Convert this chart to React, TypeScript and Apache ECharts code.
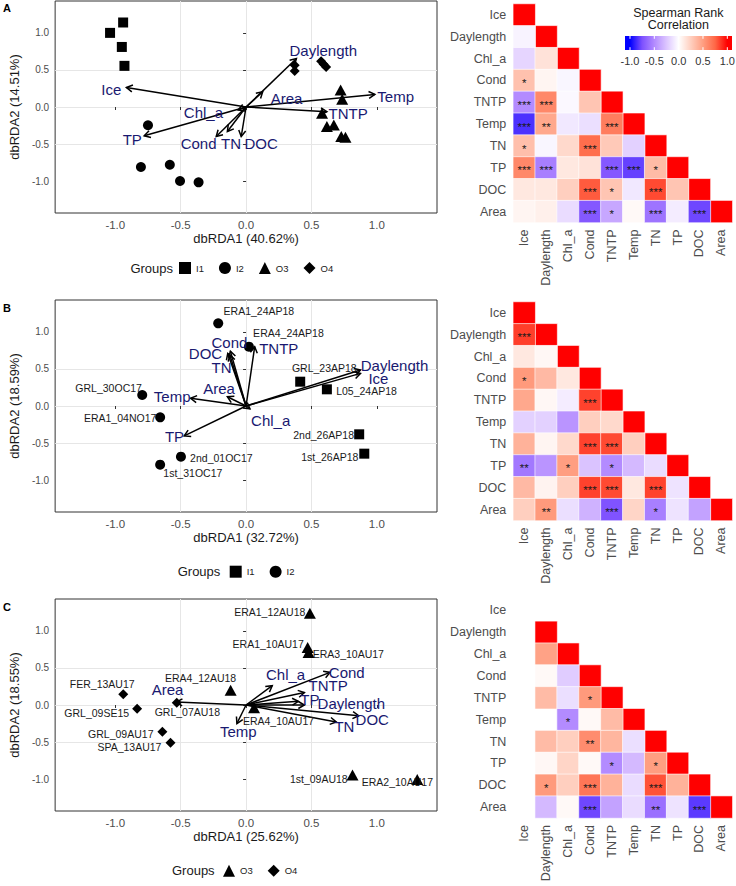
import React, { useEffect, useRef } from "react";
import * as echarts from "echarts";

const FONT = '"Liberation Sans", Arial, Helvetica, sans-serif';

// ---------- correlation heatmaps ----------
const varNames = ["Ice", "Daylength", "Chl_a", "Cond", "TNTP", "Temp", "TN", "TP", "DOC", "Area"];

// lower triangle: rows Daylength..Area, columns Ice..(row-1)
const corrA = [
  [-0.05],
  [-0.18, 0.15],
  [0.32, 0.05, -0.04],
  [-0.5, 0.6, -0.03, 0.3],
  [-0.85, 0.45, -0.1, -0.14, 0.65],
  [0.33, -0.04, 0.2, 0.72, 0.28, -0.2],
  [0.6, -0.55, 0.12, 0.15, -0.72, -0.8, 0.35],
  [0.12, 0.12, 0.25, 0.78, 0.3, -0.1, 0.82, 0.3],
  [0.05, 0.08, -0.15, -0.72, -0.38, 0.03, -0.6, -0.08, -0.78],
];
const sigA = [
  [""],
  ["", ""],
  ["*", "", ""],
  ["***", "***", "", ""],
  ["***", "**", "", "", "***"],
  ["*", "", "", "***", "", ""],
  ["***", "***", "", "", "***", "***", "*"],
  ["", "", "", "***", "*", "", "***", ""],
  ["", "", "", "***", "*", "", "***", "", "***"],
];
const diagA = [1, 1, 1, 1, 1, 1, 1, 1, 1, 1];

const corrB = [
  [0.85],
  [0.12, 0.04],
  [0.52, 0.36, 0.12],
  [0.45, 0.04, -0.08, 0.84],
  [-0.2, -0.2, -0.46, 0.25, 0.2],
  [0.4, 0.05, 0.2, 0.84, 0.82, 0.25],
  [-0.58, -0.46, 0.5, -0.26, -0.5, -0.3, -0.15],
  [0.36, 0.06, 0.25, 0.84, 0.82, 0.12, 0.84, -0.12],
  [0.25, 0.52, -0.14, -0.33, -0.74, 0.22, -0.55, -0.12, -0.4],
];
const sigB = [
  ["***"],
  ["", ""],
  ["*", "", ""],
  ["", "", "", "***"],
  ["", "", "", "", ""],
  ["", "", "", "***", "***", ""],
  ["**", "", "*", "", "*", "", ""],
  ["", "", "", "***", "***", "", "***", ""],
  ["", "**", "", "", "***", "", "*", "", ""],
];
const diagB = [1, 1, 1, 1, 1, 1, 1, 1, 1, 1];

const corrC = [
  [null],
  [null, 0.48],
  [null, 0.03, -0.22],
  [null, 0.35, -0.14, 0.52],
  [null, null, -0.5, 0.03, 0.35],
  [null, 0.35, 0.25, 0.58, 0.38, -0.14],
  [null, 0.04, 0.22, 0.03, -0.5, -0.3, 0.5],
  [null, 0.52, 0.25, 0.68, 0.4, -0.15, 0.8, 0.4],
  [null, -0.3, 0.03, -0.78, -0.4, -0.15, -0.62, -0.12, -0.82],
];
const sigC = [
  [""],
  ["", ""],
  ["", "", ""],
  ["", "", "", "*"],
  ["", "", "*", "", ""],
  ["", "", "", "**", "", ""],
  ["", "", "", "", "*", "", "*"],
  ["", "*", "", "***", "", "", "***", ""],
  ["", "", "", "***", "", "", "**", "", "***"],
];
const diagC = [null, 1, 1, 1, 1, 1, 1, 1, 1, 1];

const legendTicks = [-1, -0.5, 0, 0.5, 1];
const gradColors = ["#0000FF", "#7E51FF", "#B38BFF", "#DCC5FF", "#FFFFFF", "#FFCFBF", "#FF9E81", "#FF6746", "#FF0000"];

// ---------- ordination panels ----------
const ordTicks = [-1, -0.5, 0, 0.5, 1];
const xTitles = ["dbRDA1 (40.62%)", "dbRDA1 (32.72%)", "dbRDA1 (25.62%)"];
const yTitles = ["dbRDA2 (14.51%)", "dbRDA2 (18.59%)", "dbRDA2 (18.55%)"];

// Panel A sites
const aI1 = [[-0.94, 1.14], [-1.04, 1.0], [-0.95, 0.81], [-0.93, 0.555]];
const aI2 = [[-0.75, -0.246], [-0.804, -0.81], [-0.583, -0.779], [-0.505, -0.998], [-0.363, -1.016]];
const aO3 = [[0.723, 0.228], [0.735, 0.103], [0.581, -0.085], [0.618, -0.264], [0.671, -0.242], [0.728, -0.398], [0.76, -0.407]];
const aO4 = [[0.372, 0.564], [0.372, 0.487], [0.574, 0.617], [0.593, 0.577], [0.612, 0.541]];
const arrowNamesA = ["Ice", "Daylength", "Chl_a", "Cond", "TNTP", "Temp", "TN", "TP", "DOC", "Area"];
const arrowTipsA = [[-0.915, 0.264], [0.385, 0.654], [-0.06, -0.04], [-0.228, -0.398], [0.618, -0.063], [0.985, 0.17], [-0.143, -0.331], [-0.779, -0.389], [-0.037, -0.398], [0.127, 0.205]];
const arrowLabelPosA = [[-1.03, 0.238], [0.59, 0.765], [-0.326, -0.078], [-0.363, -0.487], [0.78, -0.09], [1.144, 0.148], [-0.115, -0.49], [-0.87, -0.443], [0.115, -0.497], [0.31, 0.12]];

// Panel B sites
const bI1 = [[0.414, 0.328], [0.618, 0.225], [0.865, -0.382], [0.904, -0.643]];
const bI2 = [[-0.213, 1.115], [0.022, 0.8], [-0.794, 0.148], [-0.657, -0.153], [-0.498, -0.683], [-0.657, -0.791]];
const siteNamesB = ["GRL_23AP18", "L05_24AP18", "2nd_26AP18", "1st_26AP18", "ERA1_24AP18", "ERA4_24AP18", "GRL_30OC17", "ERA1_04NO17", "2nd_01OC17", "1st_31OC17"];
const siteLabelPosB = [[0.598, 0.508], [0.921, 0.202], [0.593, -0.391], [0.64, -0.683], [0.098, 1.281], [0.324, 0.98], [-1.051, 0.238], [-0.963, -0.157], [-0.189, -0.697], [-0.407, -0.899]];
const arrowNamesB = ["Ice", "Daylength", "Chl_a", "Cond", "TNTP", "Temp", "TN", "TP", "DOC", "Area"];
const arrowTipsB = [[0.875, 0.44], [0.875, 0.485], [0.03, -0.04], [-0.12, 0.74], [0.066, 0.8], [-0.424, 0.104], [-0.125, 0.69], [-0.473, -0.404], [-0.14, 0.71], [-0.143, 0.125]];
const arrowLabelPosB = [[1.012, 0.373], [1.135, 0.553], [0.188, -0.189], [-0.127, 0.86], [0.25, 0.778], [-0.565, 0.125], [-0.188, 0.525], [-0.547, -0.413], [-0.31, 0.715], [-0.206, 0.237]];

// Panel C sites
const cO3 = [[0.488, 1.239], [0.471, 0.775], [0.478, 0.707], [-0.118, 0.198], [0.061, -0.036], [0.814, -0.946], [1.309, -1.004]];
const cO4 = [[-0.939, 0.144], [-0.833, -0.05], [-0.53, 0.03], [-0.64, -0.36], [-0.578, -0.509]];
const siteNamesC = ["ERA1_12AU18", "ERA1_10AU17", "ERA3_10AU17", "ERA4_12AU18", "ERA4_10AU17", "1st_09AU18", "ERA2_10AU17", "FER_13AU17", "GRL_09SE15", "GRL_07AU18", "GRL_09AU17", "SPA_13AU17"];
const siteLabelPosC = [[0.181, 1.248], [0.169, 0.829], [0.782, 0.685], [-0.348, 0.369], [0.248, -0.216], [0.556, -0.995], [1.157, -1.04], [-1.1, 0.288], [-1.142, -0.113], [-0.449, -0.09], [-0.958, -0.396], [-0.892, -0.568]];
const arrowNamesC = ["Daylength", "Chl_a", "Cond", "TNTP", "Temp", "TN", "TP", "DOC", "Area"];
const arrowTipsC = [[0.446, 0.0], [0.2, 0.26], [0.642, 0.44], [0.446, 0.168], [-0.07, -0.25], [0.69, -0.23], [0.4, 0.05], [0.862, -0.145], [-0.534, 0.04]];
const arrowLabelPosC = [[0.805, 0.02], [0.302, 0.408], [0.77, 0.433], [0.628, 0.26], [-0.06, -0.355], [0.752, -0.284], [0.488, 0.08], [0.965, -0.194], [-0.6, 0.203]];

const groupSymbols: Record<string, string> = { I1: "rect", I2: "circle", O3: "triangle", O4: "diamond" };
const groupSizes: Record<string, any> = { I1: 10, I2: 10, O3: [12, 11], O4: 10 };

function heatData(corr: (number | null)[][], sig: string[][], diag: (number | null)[]) {
  const out: any[] = [];
  varNames.forEach((_, i) => {
    if (diag[i] !== null) out.push({ value: [i, i, diag[i]], star: "" });
    if (i > 0) {
      corr[i - 1].forEach((v, j) => {
        if (v !== null) out.push({ value: [j, i, v], star: sig[i - 1][j] });
      });
    }
  });
  return out;
}

function buildOption() {
  const SCAT_LEFT = 39, SCAT_W = 398, SCAT_H = 212;
  const scatTops = [1, 300, 599];
  const HEAT_LEFT = 513.3, HEAT_W = 219, HEAT_H = 218.5;
  const heatTops = [4, 302, 599.5];

  const grid: any[] = [];
  const xAxis: any[] = [];
  const yAxis: any[] = [];
  const series: any[] = [];
  const heatSeriesIdx: number[] = [];

  const fmt = (v: number) => v.toFixed(1);

  for (let p = 0; p < 3; p++) {
    grid.push({
      left: SCAT_LEFT, top: scatTops[p], width: SCAT_W, height: SCAT_H,
      show: true, borderColor: "#333333", borderWidth: 1, backgroundColor: "transparent",
    });
    grid.push({ left: HEAT_LEFT, top: heatTops[p], width: HEAT_W, height: HEAT_H });
    const gs = 2 * p, gh = 2 * p + 1;
    xAxis[gs] = {
      type: "value", gridIndex: gs, min: -1.46, max: 1.46,
      name: xTitles[p], nameLocation: "middle", nameGap: 19,
      nameTextStyle: { color: "#1a1a1a", fontSize: 13, fontFamily: FONT },
      axisLine: { show: false },
      axisTick: { show: true, length: 3, lineStyle: { color: "#333333" }, customValues: ordTicks },
      axisLabel: { customValues: ordTicks, formatter: fmt, color: "#4d4d4d", fontSize: 11.5, fontFamily: FONT, margin: 6 },
      splitLine: { show: true, lineStyle: { color: "#E6E6E6", width: 1 }, showMinLine: false, showMaxLine: false },
    };
    yAxis[gs] = {
      type: "value", gridIndex: gs, min: -1.43, max: 1.43,
      name: yTitles[p], nameLocation: "middle", nameGap: 24, nameRotate: 90,
      nameTextStyle: { color: "#1a1a1a", fontSize: 13, fontFamily: FONT },
      axisLine: { show: false },
      axisTick: { show: true, length: 3, lineStyle: { color: "#333333" }, customValues: ordTicks },
      axisLabel: { customValues: ordTicks, formatter: fmt, color: "#4d4d4d", fontSize: 10, fontFamily: FONT, margin: 6 },
      splitLine: { show: true, lineStyle: { color: "#E6E6E6", width: 1 }, showMinLine: false, showMaxLine: false },
    };
    xAxis[gh] = {
      type: "category", gridIndex: gh, data: varNames,
      axisLine: { show: false }, axisTick: { show: false }, splitLine: { show: false },
      axisLabel: { rotate: 90, color: "#4d4d4d", fontSize: 12.5, fontFamily: FONT, margin: 7, interval: 0 },
    };
    yAxis[gh] = {
      type: "category", gridIndex: gh, data: varNames, inverse: true,
      axisLine: { show: false }, axisTick: { show: false }, splitLine: { show: false },
      axisLabel: { color: "#4d4d4d", fontSize: 12.5, fontFamily: FONT, margin: 7, interval: 0 },
    };
  }

  const addPoints = (axis: number, name: string, pts: number[][]) => {
    series.push({
      type: "scatter", name, xAxisIndex: axis, yAxisIndex: axis, data: pts,
      symbol: groupSymbols[name], symbolSize: groupSizes[name],
      itemStyle: { color: "#000000", opacity: 1 }, emphasis: { disabled: true }, z: 3,
    });
  };

  const addArrows = (axis: number, tips: number[][]) => {
    series.push({
      type: "custom", name: "arrows" + axis, xAxisIndex: axis, yAxisIndex: axis,
      data: tips, encode: { x: 0, y: 1 }, clip: false, z: 4, silent: true,
      renderItem: (params: any, api: any) => {
        const o = api.coord([0, 0]);
        const t = api.coord([api.value(0), api.value(1)]);
        const ang = Math.atan2(t[1] - o[1], t[0] - o[0]);
        const L = 7, a = Math.PI / 6;
        const p1 = [t[0] - L * Math.cos(ang - a), t[1] - L * Math.sin(ang - a)];
        const p2 = [t[0] - L * Math.cos(ang + a), t[1] - L * Math.sin(ang + a)];
        return {
          type: "group",
          children: [
            { type: "line", shape: { x1: o[0], y1: o[1], x2: t[0], y2: t[1] }, style: { stroke: "#000", lineWidth: 1.5 } },
            { type: "polyline", shape: { points: [p1, t, p2] }, style: { stroke: "#000", lineWidth: 1.5, fill: "none" } },
          ],
        };
      },
    });
  };

  const addTexts = (axis: number, names: string[], pos: number[][], color: string, size: number) => {
    series.push({
      type: "custom", name: "texts" + axis + size, xAxisIndex: axis, yAxisIndex: axis,
      data: pos, encode: { x: 0, y: 1 }, clip: false, z: 5, silent: true,
      renderItem: (params: any, api: any) => {
        const c = api.coord([api.value(0), api.value(1)]);
        return {
          type: "text", x: c[0], y: c[1],
          style: { text: names[params.dataIndex], fill: color, fontSize: size, fontFamily: FONT, align: "center", verticalAlign: "middle" },
        };
      },
    });
  };

  const addHeat = (axis: number, corr: any, sig: any, diag: any) => {
    heatSeriesIdx.push(series.length);
    series.push({
      type: "heatmap", name: "corr" + axis, xAxisIndex: axis, yAxisIndex: axis,
      data: heatData(corr, sig, diag),
      itemStyle: { borderColor: "#ffffff", borderWidth: 0.6 },
      emphasis: { disabled: true },
      label: {
        show: true, formatter: (pr: any) => pr.data.star || "",
        color: "#1a1a1a", fontSize: 11.5, fontFamily: FONT, offset: [0, 2.5],
      },
    });
  };

  // Panel A
  addPoints(0, "I1", aI1);
  addPoints(0, "I2", aI2);
  addPoints(0, "O3", aO3);
  addPoints(0, "O4", aO4);
  addArrows(0, arrowTipsA);
  addTexts(0, arrowNamesA, arrowLabelPosA, "#191970", 15);
  addHeat(1, corrA, sigA, diagA);

  // Panel B
  addPoints(2, "I1", bI1);
  addPoints(2, "I2", bI2);
  addTexts(2, siteNamesB, siteLabelPosB, "#1a1a1a", 10.5);
  addArrows(2, arrowTipsB);
  addTexts(2, arrowNamesB, arrowLabelPosB, "#191970", 15);
  addHeat(3, corrB, sigB, diagB);

  // Panel C
  addPoints(4, "O3", cO3);
  addPoints(4, "O4", cO4);
  addTexts(4, siteNamesC, siteLabelPosC, "#1a1a1a", 10.5);
  addArrows(4, arrowTipsC);
  addTexts(4, arrowNamesC, arrowLabelPosC, "#191970", 15);
  addHeat(5, corrC, sigC, diagC);

  const legendBase = {
    orient: "horizontal", itemWidth: 12, itemHeight: 12, itemGap: 15, padding: 0,
    selectedMode: false, textStyle: { fontSize: 9.5, color: "#1a1a1a", fontFamily: FONT },
  };
  const legend = [
    { ...legendBase, left: 179, top: 262, data: [{ name: "I1", icon: "rect" }, { name: "I2", icon: "circle" }, { name: "O3", icon: "triangle" }, { name: "O4", icon: "diamond" }] },
    { ...legendBase, left: 229.7, top: 565.7, data: [{ name: "I1", icon: "rect" }, { name: "I2", icon: "circle" }] },
    { ...legendBase, left: 223, top: 864.7, data: [{ name: "O3", icon: "triangle" }, { name: "O4", icon: "diamond" }] },
  ];

  // colour-bar legend
  const barX = 625, barW = 107, barY = 36, barH = 14;
  const v2x = (v: number) => 630 + ((v + 1) / 2) * 97.3;
  const stops = [{ offset: 0, color: gradColors[0] }]
    .concat(gradColors.map((c, k) => ({ offset: (v2x(-1 + k * 0.25) - barX) / barW, color: c })))
    .concat([{ offset: 1, color: gradColors[gradColors.length - 1] }]);

  const graphic: any[] = [
    { type: "text", x: 3, y: 2, style: { text: "A", fontSize: 11, fontWeight: "bold", fontFamily: FONT, fill: "#000" } },
    { type: "text", x: 3, y: 302, style: { text: "B", fontSize: 11, fontWeight: "bold", fontFamily: FONT, fill: "#000" } },
    { type: "text", x: 3, y: 601, style: { text: "C", fontSize: 11, fontWeight: "bold", fontFamily: FONT, fill: "#000" } },
    { type: "text", x: 151.7, y: 268, style: { text: "Groups", fontSize: 13, fontFamily: FONT, fill: "#1a1a1a", align: "center", verticalAlign: "middle" } },
    { type: "text", x: 199, y: 571.7, style: { text: "Groups", fontSize: 13, fontFamily: FONT, fill: "#1a1a1a", align: "center", verticalAlign: "middle" } },
    { type: "text", x: 193.3, y: 870.7, style: { text: "Groups", fontSize: 13, fontFamily: FONT, fill: "#1a1a1a", align: "center", verticalAlign: "middle" } },
    { type: "text", x: 678.3, y: 12.5, style: { text: "Spearman Rank", fontSize: 12.5, fontFamily: FONT, fill: "#1a1a1a", align: "center", verticalAlign: "middle" } },
    { type: "text", x: 678.3, y: 25, style: { text: "Correlation", fontSize: 12.5, fontFamily: FONT, fill: "#1a1a1a", align: "center", verticalAlign: "middle" } },
    {
      type: "rect", shape: { x: barX, y: barY, width: barW, height: barH },
      style: { fill: new echarts.graphic.LinearGradient(0, 0, 1, 0, stops) },
    },
  ];
  legendTicks.forEach((v) => {
    const x = v2x(v);
    graphic.push({ type: "line", shape: { x1: x, y1: barY, x2: x, y2: barY + 2.8 }, style: { stroke: "#fff", lineWidth: 1 } });
    graphic.push({ type: "line", shape: { x1: x, y1: barY + barH - 2.8, x2: x, y2: barY + barH }, style: { stroke: "#fff", lineWidth: 1 } });
    graphic.push({ type: "text", x, y: 61, style: { text: v.toFixed(1), fontSize: 11, fontFamily: FONT, fill: "#333333", align: "center", verticalAlign: "middle" } });
  });

  return {
    animation: false,
    backgroundColor: "#ffffff",
    textStyle: { fontFamily: FONT },
    grid, xAxis, yAxis, series, legend, graphic,
    visualMap: {
      type: "continuous", show: false, min: -1, max: 1, dimension: 2,
      seriesIndex: heatSeriesIdx, inRange: { color: gradColors },
    },
  };
}

export default function App() {
  const ref = useRef<HTMLDivElement>(null);
  useEffect(() => {
    const chart = echarts.init(ref.current as HTMLDivElement, null, { renderer: "svg" });
    chart.setOption(buildOption() as any);
    return () => chart.dispose();
  }, []);
  return (
    <div
      ref={ref}
      style={{ position: "absolute", left: 0, top: 0, width: 736, height: 886, background: "#ffffff" }}
    />
  );
}
